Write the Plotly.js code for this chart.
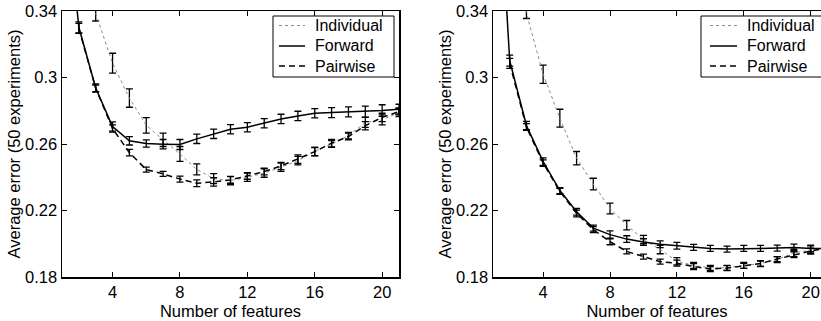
<!DOCTYPE html>
<html>
<head>
<meta charset="utf-8">
<script src="https://cdn.plot.ly/plotly-3.0.1.min.js"></script>
<style>html,body{margin:0;padding:0;background:#fff;}#chart{width:821px;height:321px;}</style>
</head>
<body>
<div id="chart"></div>
<script>
// ---- data ----
const seriesNames = ["Individual", "Forward", "Pairwise"];
const xTicks = [4, 8, 12, 16, 20];
const yTicks = [0.18, 0.22, 0.26, 0.30, 0.34];
const yTickText = ["0.18", "0.22", "0.26", "0.3", "0.34"];
const xTitle = "Number of features";
const yTitle = "Average error (50 experiments)";

// left panel
const xL = [1,2,3,4,5,6,7,8,9,10,11,12,13,14,15,16,17,18,19,20,21];
const indL = [0.43,0.40,0.3385,0.3086,0.2876,0.2712,0.2625,0.2540,0.2447,0.2392,0.2380,0.2400,0.2425,0.2460,0.2500,0.2555,0.2600,0.2650,0.2730,0.2745,0.2790];
const indErrL = [0.005,0.005,0.0045,0.006,0.0055,0.0047,0.004,0.0045,0.0033,0.003,0.0025,0.0025,0.0025,0.0025,0.0025,0.0025,0.002,0.002,0.003,0.003,0.0025];
const fwdL = [0.43,0.3302,0.2937,0.2705,0.2619,0.2603,0.2599,0.2597,0.2631,0.2661,0.2689,0.2701,0.2725,0.2751,0.2769,0.2785,0.2789,0.2793,0.2795,0.2801,0.2809];
const fwdErrL = [0.004,0.0033,0.0025,0.0028,0.0025,0.0022,0.0028,0.003,0.0028,0.0028,0.0028,0.0028,0.0028,0.0028,0.0028,0.0028,0.003,0.003,0.0033,0.0035,0.003];
const xPairL = [2,3,4,5,6,7,8,9,10,11,12,13,14,15,16,17,18,19,20,21];
const pairL = [0.3295,0.2935,0.2693,0.2548,0.2446,0.2420,0.2389,0.2364,0.2372,0.2384,0.2408,0.2434,0.2468,0.2509,0.2554,0.2605,0.2645,0.2710,0.2760,0.2795];
const pairErrL = [0.003,0.002,0.0022,0.002,0.0015,0.0015,0.0018,0.002,0.0025,0.002,0.002,0.002,0.0022,0.0025,0.0025,0.0022,0.002,0.0025,0.0025,0.002];

// right panel
const xR = [1,2,3,4,5,6,7,8,9,10,11,12,13,14,15,16,17,18,19,20,21];
const indR = [0.48,0.40,0.3385,0.3020,0.2755,0.2515,0.2359,0.2212,0.2112,0.2025,0.1965,0.1895,0.1870,0.1855,0.1855,0.1870,0.1880,0.1905,0.1945,0.1965,0.1980];
const indErrR = [0.005,0.005,0.003,0.0055,0.0054,0.004,0.0035,0.0032,0.0028,0.0025,0.0025,0.0022,0.0018,0.0015,0.0015,0.0018,0.0018,0.0018,0.0022,0.0022,0.0018];
const fwdR = [0.48,0.3101,0.2711,0.2494,0.2320,0.2192,0.2094,0.2055,0.2028,0.2010,0.1997,0.1988,0.1978,0.1972,0.1968,0.1972,0.1972,0.1974,0.1978,0.1972,0.1972];
const fwdErrR = [0.004,0.0033,0.0025,0.0022,0.0018,0.002,0.0018,0.0022,0.002,0.002,0.002,0.002,0.0018,0.0018,0.0018,0.0018,0.0018,0.0018,0.002,0.002,0.002];
const xPairR = [2,3,4,5,6,7,8,9,10,11,12,13,14,15,16,17,18,19,20,21];
const pairR = [0.3085,0.2702,0.2485,0.2315,0.2182,0.2085,0.2012,0.1954,0.1923,0.1892,0.1883,0.1863,0.1848,0.1854,0.1867,0.1881,0.1908,0.1934,0.1956,0.1975];
const pairErrR = [0.003,0.002,0.002,0.0018,0.002,0.0018,0.0018,0.0015,0.0015,0.0015,0.0018,0.0018,0.0015,0.0015,0.0015,0.0015,0.0015,0.0018,0.0018,0.0015];

// ---- styles ----
const FONT = "Liberation Sans, Arial, Helvetica, sans-serif";
const W = 821, H = 321, MT = 11, MB = 44;
const PH = H - MT - MB;
const lineStyles = {
  Individual: {color: "#8a8a8a", width: 1, dash: "dot"},
  Forward: {color: "#000", width: 1.5, dash: "solid"},
  Pairwise: {color: "#000", width: 1.5, dash: "6px,4px"}
};
function mk(name, x, y, e, xa, ya) {
  return {
    type: "scatter", mode: "lines", name: name, x: x, y: y,
    xaxis: xa, yaxis: ya, showlegend: false,
    line: lineStyles[name],
    error_y: {type: "data", array: e, visible: true, color: "#000", thickness: 1.3, width: 3.5},
    hoverinfo: "skip"
  };
}
const traces = [
  mk("Individual", xL, indL, indErrL, "x", "y"),
  mk("Forward", xL, fwdL, fwdErrL, "x", "y"),
  mk("Pairwise", xPairL, pairL, pairErrL, "x", "y"),
  mk("Individual", xR, indR, indErrR, "x2", "y2"),
  mk("Forward", xR, fwdR, fwdErrR, "x2", "y2"),
  mk("Pairwise", xPairR, pairR, pairErrR, "x2", "y2")
];

const axFont = {family: FONT, size: 16.5, color: "#000"};
function xax(domain, range, anchor) {
  return {
    domain: domain, range: range, anchor: anchor,
    tickmode: "array", tickvals: xTicks, ticktext: xTicks.map(String),
    ticks: "inside", ticklen: 5, tickwidth: 1, tickcolor: "#000",
    showline: true, linecolor: "#000", linewidth: 1.5, mirror: "ticks",
    showgrid: false, zeroline: false, tickfont: axFont, ticklabeloverflow: "allow",
    title: {text: xTitle, font: axFont, standoff: 5}
  };
}
function yax(anchor, mirror) {
  return {
    domain: [0, 1], range: [0.18, 0.34], anchor: anchor,
    tickmode: "array", tickvals: yTicks, ticktext: yTickText,
    ticks: "inside", ticklen: 5, tickwidth: 1, tickcolor: "#000",
    showline: true, linecolor: "#000", linewidth: 1.5, mirror: mirror,
    showgrid: false, zeroline: false, tickfont: axFont,
    title: {text: yTitle, font: axFont, standoff: 0}
  };
}

// ---- legend boxes (pixel layout -> paper coords) ----
const px2x = p => p / W;
const px2y = p => 1 - (p - MT) / PH;
const shapes = [], annotations = [];
function legendBlock(bx0, bx1, by0, by1, sx0, sx1, tx, rows) {
  shapes.push({type: "rect", xref: "paper", yref: "paper",
    x0: px2x(bx0), x1: px2x(bx1), y0: px2y(by1), y1: px2y(by0),
    line: {color: "#000", width: 1}, fillcolor: "#fff", layer: "above"});
  seriesNames.forEach((nm, i) => {
    const st = lineStyles[nm];
    shapes.push({type: "line", xref: "paper", yref: "paper",
      x0: px2x(sx0), x1: px2x(sx1), y0: px2y(rows[i]), y1: px2y(rows[i]),
      line: {color: st.color, width: st.width, dash: st.dash}, layer: "above"});
    annotations.push({xref: "paper", yref: "paper", x: px2x(tx), y: px2y(rows[i]),
      xanchor: "left", yanchor: "middle", showarrow: false, text: nm,
      font: {family: FONT, size: 16, color: "#000"}});
  });
}
legendBlock(273, 394, 16, 77, 279, 305, 313, [25.5, 46, 66]);
legendBlock(701, 840, 16, 77, 710, 737, 745, [25.5, 46, 66]);

const layout = {
  width: W, height: H,
  margin: {l: 0, r: 0, t: MT, b: MB, autoexpand: false},
  paper_bgcolor: "#fff", plot_bgcolor: "#fff",
  font: {family: FONT, color: "#000"},
  xaxis: xax([62 / W, 399 / W], [1, 21], "y"),
  yaxis: yax("x", "ticks"),
  xaxis2: xax([493 / W, 1], [1, 20.62], "y2"),
  yaxis2: yax("x2", false),
  shapes: shapes, annotations: annotations,
  showlegend: false
};
Plotly.newPlot("chart", traces, layout, {staticPlot: true, displayModeBar: false});
</script>
</body>
</html>
